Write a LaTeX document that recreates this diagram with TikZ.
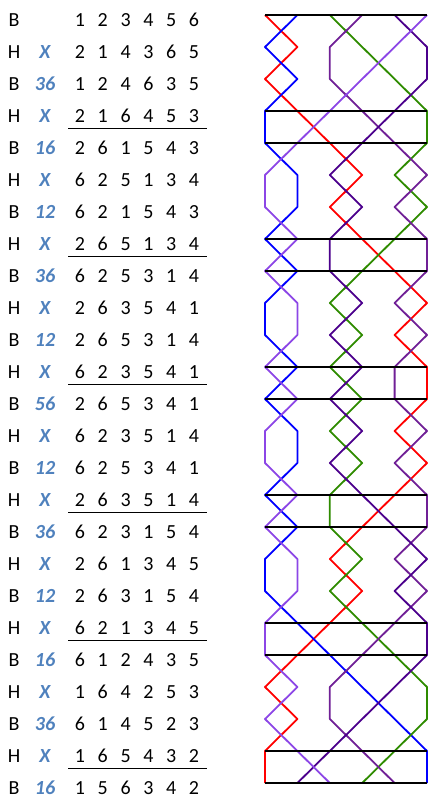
\documentclass[tikz,border=0pt]{standalone}
\usepackage{fontspec}
\setmainfont{Carlito}
\usepackage{tikz}
\definecolor{pnblue}{RGB}{79,129,189}
\definecolor{bellone}{RGB}{255,0,0}
\definecolor{belltwo}{RGB}{0,0,255}
\definecolor{bellthree}{RGB}{46,139,0}
\definecolor{bellfour}{RGB}{112,32,150}
\definecolor{bellfive}{RGB}{75,0,140}
\definecolor{bellsix}{RGB}{140,70,230}
\tikzset{
	digit/.style={inner sep=0pt, font=\fontsize{20}{24}\selectfont},
	pn/.style={inner sep=0pt, text=pnblue, font=\fontsize{20}{24}\selectfont\bfseries\itshape},
	bell/.style={line width=1.8pt, line join=round},
	lead/.style={line width=1.8pt, black},
	rule/.style={line width=0.9pt, black}
}

\begin{document}
\begin{tikzpicture}[x=1pt, y=-1pt]
	\useasboundingbox (0,0) rectangle (439,808);
	\foreach \r/\s/\pn/\row in {1/B//{1,2,3,4,5,6}, 2/H/X/{2,1,4,3,6,5}, 3/B/36/{1,2,4,6,3,5}, 4/H/X/{2,1,6,4,5,3}, 5/B/16/{2,6,1,5,4,3}, 6/H/X/{6,2,5,1,3,4}, 7/B/12/{6,2,1,5,4,3}, 8/H/X/{2,6,5,1,3,4}, 9/B/36/{6,2,5,3,1,4}, 10/H/X/{2,6,3,5,4,1}, 11/B/12/{2,6,5,3,1,4}, 12/H/X/{6,2,3,5,4,1}, 13/B/56/{2,6,5,3,4,1}, 14/H/X/{6,2,3,5,1,4}, 15/B/12/{6,2,5,3,4,1}, 16/H/X/{2,6,3,5,1,4}, 17/B/36/{6,2,3,1,5,4}, 18/H/X/{2,6,1,3,4,5}, 19/B/12/{2,6,3,1,5,4}, 20/H/X/{6,2,1,3,4,5}, 21/B/16/{6,1,2,4,3,5}, 22/H/X/{1,6,4,2,5,3}, 23/B/36/{6,1,4,5,2,3}, 24/H/X/{1,6,5,4,3,2}, 25/B/16/{1,5,6,3,4,2}}{
		\node[digit] (s-\r) at (14,{20+32*(\r-1)}) {\s};
		\node[pn] (pn-\r) at (45,{20+32*(\r-1)}) {\pn};
		\foreach \b [count=\k] in \row {
			\node[digit] (d\k-\r) at ({80+22.8*(\k-1)},{20+32*(\r-1)}) {\b};
			\coordinate (c\k-\r) at ({265+32.4*(\k-1)},{15+32*(\r-1)});
			\coordinate (b\b-\r) at (c\k-\r);
		}
	}
	\foreach \b/\col in {1/bellone, 2/belltwo, 3/bellthree, 4/bellfour, 5/bellfive, 6/bellsix}
		\draw[bell, \col] (b\b-1) \foreach \r in {2,...,25}{ -- (b\b-\r)};
	\foreach \r in {1,4,5,8,9,12,13,16,17,20,21,24,25}
		\draw[lead] (c1-\r) -- (c6-\r);
	\foreach \r in {4,8,...,24}
		\draw[rule] ([shift={(-12,12)}]d1-\r.center) -- ([shift={(13,12)}]d6-\r.center);
\end{tikzpicture}
\end{document}
